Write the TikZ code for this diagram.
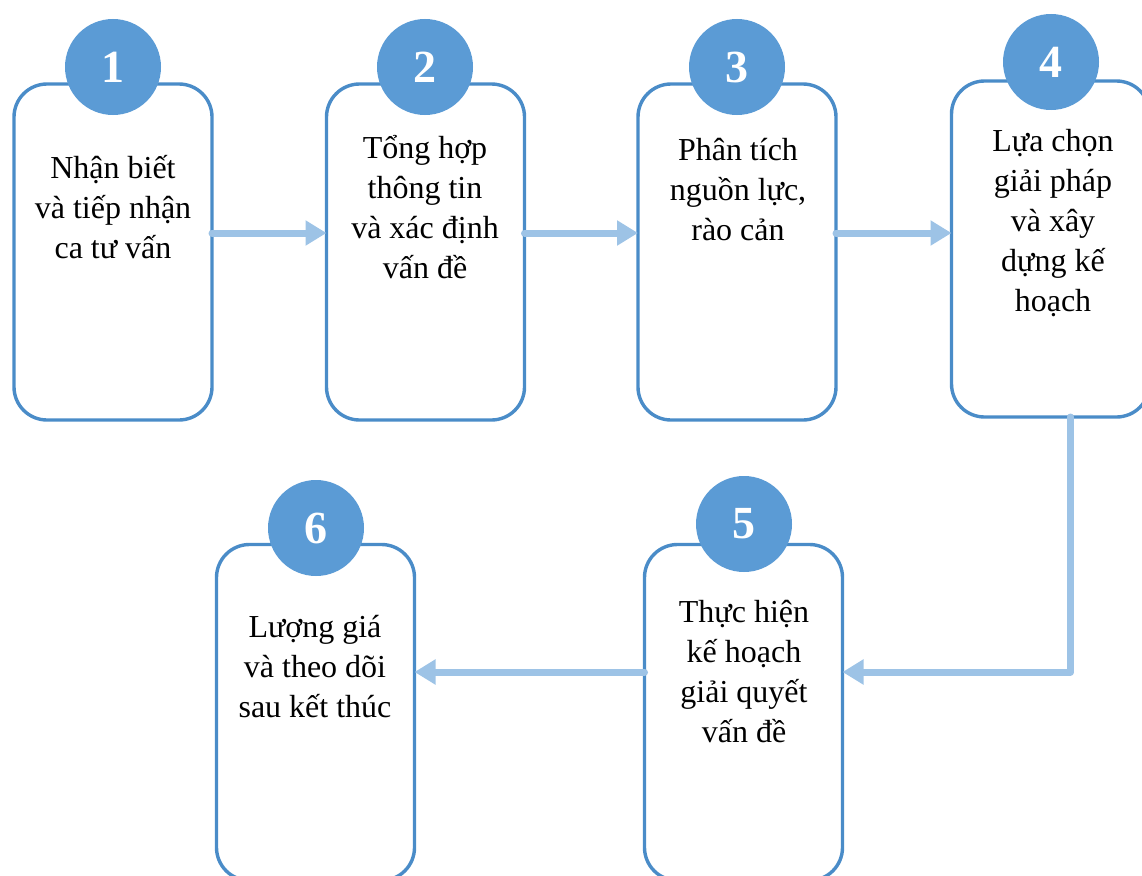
\documentclass[tikz,border=0pt]{standalone}
\usepackage{fontspec}
\setmainfont{Liberation Serif}
\usetikzlibrary{arrows.meta}
\definecolor{accent}{HTML}{5B9BD5}
\definecolor{boxline}{HTML}{4A8CC8}
\definecolor{flow}{HTML}{9DC3E6}
\begin{document}
\begin{tikzpicture}[x=1pt,y=-1pt,
  stepbox/.style={draw=boxline, line width=3.4pt, fill=white, rounded corners=33pt,
    minimum width=198pt, minimum height=336pt, inner sep=0pt, outer sep=0pt},
  badge/.style={circle, fill=accent, minimum size=96pt, inner sep=0pt, text=white,
    font=\fontsize{46}{50}\selectfont\bfseries},
  steptext/.style={align=center, font=\fontsize{32}{40}\selectfont, inner sep=0pt},
  flowarrow/.style={draw=flow, line width=7pt, line cap=round, line join=round,
    -{Triangle[length=21pt,width=24pt]}}]
\useasboundingbox (0,0) rectangle (1142,875);

% connectors sit behind the boxes
\node[stepbox] (b1) at (113,252) {};
\node[stepbox] (b2) at (425.5,252) {};
\node[stepbox] (b3) at (737,252) {};
\node[stepbox] (b4) at (1050.5,249) {};
\node[stepbox] (b5) at (743.5,712.5) {};
\node[stepbox] (b6) at (315.5,712.5) {};

\coordinate (a1) at (b1.east |- 0,233);
\coordinate (a2) at (b2.east |- 0,233);
\coordinate (a3) at (b3.east |- 0,233);
\coordinate (drop) at ([xshift=20pt]b4.south);
\coordinate (bend) at (drop |- 0,672);

\draw[flowarrow] (a1) -- (b2.west |- a1);
\draw[flowarrow] (a2) -- (b3.west |- a2);
\draw[flowarrow] (a3) -- (b4.west |- a3);
\draw[flowarrow] (drop) -- (bend) -- (b5.east |- bend);
\draw[flowarrow] (b5.west |- bend) -- (b6.east |- bend);

% number badges
\node[badge] (n1) at (113,67) {1};
\node[badge] (n2) at (425,67) {2};
\node[badge] (n3) at (737,67) {3};
\node[badge] (n4) at (1051,62) {4};
\node[badge] (n5) at (744,524) {5};
\node[badge] (n6) at (316,528) {6};

% step descriptions
\node[steptext] (t1) at (113,207) {Nhận biết\\và tiếp nhận\\ca tư vấn};
\node[steptext] (t2) at (425,207) {Tổng hợp\\thông tin\\và xác định\\vấn đề};
\node[steptext] (t3) at (738,190) {Phân tích\\nguồn lực,\\rào cản};
\node[steptext] (t4) at (1053,223) {Lựa chọn\\giải pháp\\và xây\\dựng kế\\hoạch};
\node[steptext] (t5) at (744,672) {Thực hiện\\kế hoạch\\giải quyết\\vấn đề};
\node[steptext] (t6) at (315,667) {Lượng giá\\và theo dõi\\sau kết thúc};
\end{tikzpicture}
\end{document}
